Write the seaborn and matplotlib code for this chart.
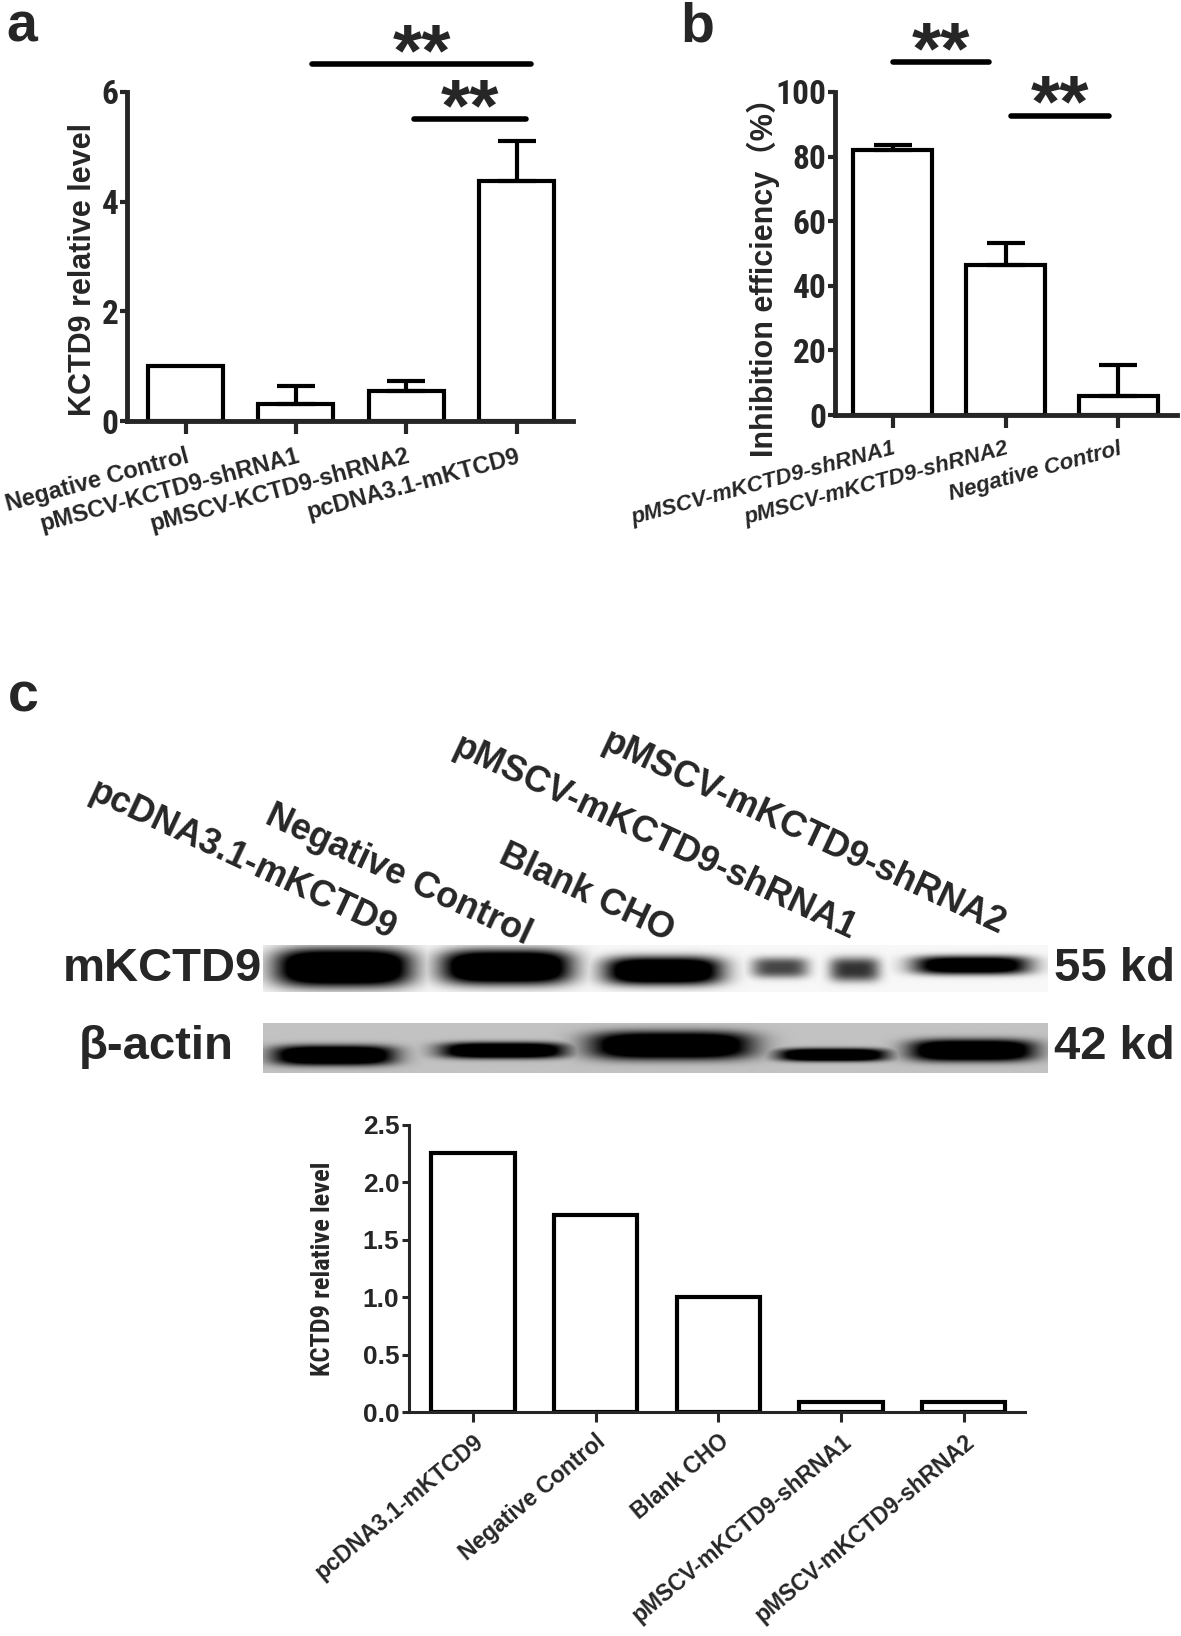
import numpy as np
import pandas as pd
import matplotlib
matplotlib.use("Agg")
import matplotlib.pyplot as plt
import seaborn as sns

# --- Data ---
a_groups = ["Negative Control", "pMSCV-KCTD9-shRNA1", "pMSCV-KCTD9-shRNA2", "pcDNA3.1-mKTCD9"]
a_means = [1.0, 0.31, 0.54, 4.37]
a_err = [0.0, 0.33, 0.19, 0.73]
a_ticks = [0, 2, 4, 6]

b_groups = ["pMSCV-mKCTD9-shRNA1", "pMSCV-mKCTD9-shRNA2", "Negative Control"]
b_means = [81.9, 46.4, 6.0]
b_err = [1.6, 6.8, 9.4]
b_ticks = [0, 20, 40, 60, 80, 100]

blot_lanes = ["pcDNA3.1-mKCTD9", "Negative Control", "Blank CHO",
              "pMSCV-mKCTD9-shRNA1", "pMSCV-mKCTD9-shRNA2"]

c_groups = ["pcDNA3.1-mKTCD9", "Negative Control", "Blank CHO",
            "pMSCV-mKCTD9-shRNA1", "pMSCV-mKCTD9-shRNA2"]
c_levels = [2.26, 1.72, 1.0, 0.085, 0.09]
c_ticks = [0.0, 0.5, 1.0, 1.5, 2.0, 2.5]

# band shapes for the blot pictures (fractions of the blot box)
mk_x = [0.102, 0.31, 0.51, 0.659, 0.754, 0.903]
mk_hw = [0.087, 0.083, 0.075, 0.036, 0.032, 0.075]
mk_y = [0.48, 0.47, 0.55, 0.48, 0.52, 0.43]
mk_hh = [0.41, 0.37, 0.30, 0.22, 0.26, 0.2]
mk_dark = [1.0, 1.0, 0.95, 0.45, 0.5, 0.85]

act_x = [0.09, 0.306, 0.52, 0.726, 0.904]
act_hw = [0.078, 0.08, 0.103, 0.07, 0.08]
act_y = [0.65, 0.55, 0.45, 0.64, 0.55]
act_hh = [0.2, 0.16, 0.28, 0.13, 0.22]
act_dark = [1.0, 1.0, 1.0, 1.0, 1.0]

sns.set_style("ticks")
REG = ['Liberation Sans', 'Noto Sans CJK SC', 'DejaVu Sans']
NARROW = ['Roboto Condensed', 'Liberation Sans', 'DejaVu Sans']
plt.rcParams['font.family'] = REG
plt.rcParams['font.weight'] = 'bold'

W, H = 1181, 1636
fig = plt.figure(figsize=(W / 100, H / 100), dpi=100)


def rect(x0, x1, y_top, y_bot):
    return [x0 / W, 1 - y_bot / H, (x1 - x0) / W, (y_bot - y_top) / H]


def bar_panel(ax, groups, means, errs, width, capsize):
    df = pd.DataFrame({"group": groups, "value": means})
    sns.barplot(data=df, x="group", y="value", ax=ax, color="white",
                edgecolor="black", linewidth=3, width=width, errorbar=None, saturation=1)
    idx = [i for i, e in enumerate(errs) if e > 0]
    ax.errorbar(idx, [means[i] for i in idx],
                yerr=[[0] * len(idx), [errs[i] for i in idx]],
                fmt='none', ecolor='black', elinewidth=3, capsize=capsize, capthick=3, zorder=1)
    sns.despine(ax=ax)
    for s in ('left', 'bottom'):
        ax.spines[s].set_linewidth(3.5)
    ax.set_xlabel("")
    ax.set_ylabel("")


def sig(ax, x0, x1, y, lw=4):
    ax.plot([x0, x1], [y, y], color='black', lw=lw, clip_on=False, solid_capstyle='round')
    ax.annotate("**", xy=((x0 + x1) / 2, y), xytext=(0, -11), textcoords='offset pixels',
                ha='center', va='baseline', fontsize=54, fontweight='bold', annotation_clip=False)


# --- panel a ---
ax_a = fig.add_axes(rect(127, 573, 92, 421))
bar_panel(ax_a, a_groups, a_means, a_err, 0.68, 14)
ax_a.set_xlim(-0.53, 3.51)
ax_a.set_ylim(0, 6)
ax_a.set_yticks(a_ticks)
ax_a.set_yticklabels([str(t) for t in a_ticks], fontsize=24, fontweight='bold', family=NARROW)
ax_a.set_xticks(range(len(a_groups)))
ax_a.set_xticklabels(a_groups, rotation=15, ha='right', rotation_mode='anchor',
                     fontsize=17, fontweight='bold')
ax_a.tick_params(axis='y', width=3, length=5, pad=1)
ax_a.tick_params(axis='x', width=3, length=9, pad=8)
ax_a.set_ylabel("KCTD9 relative level", fontsize=22, fontweight='bold')
ax_a.yaxis.set_label_coords(-0.065, 0.46)
sig(ax_a, 1.15, 3.13, 6.51)
sig(ax_a, 2.07, 3.08, 5.50)

# --- panel b ---
ax_b = fig.add_axes(rect(835, 1177, 92, 415))
bar_panel(ax_b, b_groups, b_means, b_err, 0.70, 14)
ax_b.set_xlim(-0.514, 2.52)
ax_b.set_ylim(0, 100)
ax_b.set_yticks(b_ticks)
ax_b.set_yticklabels([str(t) for t in b_ticks], fontsize=24, fontweight='bold', family=NARROW)
ax_b.set_xticks(range(len(b_groups)))
ax_b.set_xticklabels(b_groups, rotation=15, ha='right', rotation_mode='anchor',
                     fontsize=16, fontweight='bold', fontstyle='italic')
ax_b.tick_params(axis='y', width=3, length=5, pad=1)
ax_b.tick_params(axis='x', width=3, length=9, pad=8)
ax_b.set_ylabel("Inhibition efficiency（%）", fontsize=22, fontweight='bold')
ax_b.yaxis.set_label_coords(-0.16, 0.45)
sig(ax_b, 0.0, 0.856, 109.3)
sig(ax_b, 1.05, 1.92, 92.7)

# --- panel letters ---
for letter, x, y in [("a", 6, 2), ("b", 680, 2), ("c", 8, 672)]:
    fig.text(x / W, 1 - y / H, letter, fontsize=40, fontweight='bold', va='top', ha='left')


# --- blots ---
def blot_image(xs, hws, ys, hhs, darks, bg, shape=(80, 900)):
    yy, xx = np.mgrid[0:1:shape[0] * 1j, 0:1:shape[1] * 1j]
    ink = np.zeros(shape)
    for x0, w, y0, h, d in zip(xs, hws, ys, hhs, darks):
        prof = d * np.exp(-np.abs((xx - x0) / w) ** 4) * np.exp(-np.abs((yy - y0) / h) ** 3)
        ink = np.maximum(ink, np.clip(prof * 1.6, 0, 1))
    return bg * (1 - ink)


ax_mk = fig.add_axes(rect(263, 1048, 945, 992))
mk_img = blot_image(mk_x, mk_hw, mk_y, mk_hh, mk_dark, 0.97)
ax_mk.imshow(mk_img, cmap='gray', vmin=0, vmax=1, aspect='auto', extent=(0, 1, 1, 0))
ax_mk.axis('off')

ax_act = fig.add_axes(rect(263, 1048, 1023, 1073))
act_img = blot_image(act_x, act_hw, act_y, act_hh, act_dark, 0.76)
ax_act.imshow(act_img, cmap='gray', vmin=0, vmax=1, aspect='auto', extent=(0, 1, 1, 0))
ax_act.axis('off')

fig.text(262 / W, 1 - 969 / H, "mKCTD9", fontsize=34, fontweight='bold', ha='right', va='center')
fig.text(234 / W, 1 - 1047 / H, "β-actin", fontsize=34, fontweight='bold', ha='right', va='center')
fig.text(1054 / W, 1 - 969 / H, "55 kd", fontsize=34, fontweight='bold', ha='left', va='center')
fig.text(1054 / W, 1 - 1047 / H, "42 kd", fontsize=34, fontweight='bold', ha='left', va='center')

lane_ends = [(390, 940), (525, 945), (668, 942), (850, 940), (1000, 935)]
for name, (x, y) in zip(blot_lanes, lane_ends):
    fig.text(x / W, 1 - y / H, name, fontsize=26, fontweight='bold', rotation=-25,
             rotation_mode='anchor', ha='right', va='baseline')

# --- panel c quantification ---
ax_c = fig.add_axes(rect(409, 1025, 1125, 1412))
df_c = pd.DataFrame({"group": c_groups, "value": c_levels})
sns.barplot(data=df_c, x="group", y="value", ax=ax_c, color="white", edgecolor="black",
            linewidth=3, width=0.68, errorbar=None, saturation=1)
sns.despine(ax=ax_c)
for s in ('left', 'bottom'):
    ax_c.spines[s].set_linewidth(2.2)
ax_c.set_xlim(-0.52, 4.5)
ax_c.set_ylim(0, 2.5)
ax_c.set_yticks(c_ticks)
ax_c.set_yticklabels([f"{t:.1f}" for t in c_ticks], fontsize=19, fontweight='bold')
ax_c.set_xticks(range(len(c_groups)))
ax_c.set_xticklabels(c_groups, rotation=40, ha='right', rotation_mode='anchor',
                     fontsize=16.5, fontweight='bold')
ax_c.tick_params(axis='y', width=2.2, length=5, pad=2)
ax_c.tick_params(axis='x', width=2.2, length=7, pad=6)
ax_c.set_xlabel("")
ax_c.set_ylabel("KCTD9 relative level", fontsize=19, fontweight='bold', family=NARROW)
ax_c.yaxis.set_label_coords(-0.12, 0.5)

fig.savefig("out.png", dpi=100)
